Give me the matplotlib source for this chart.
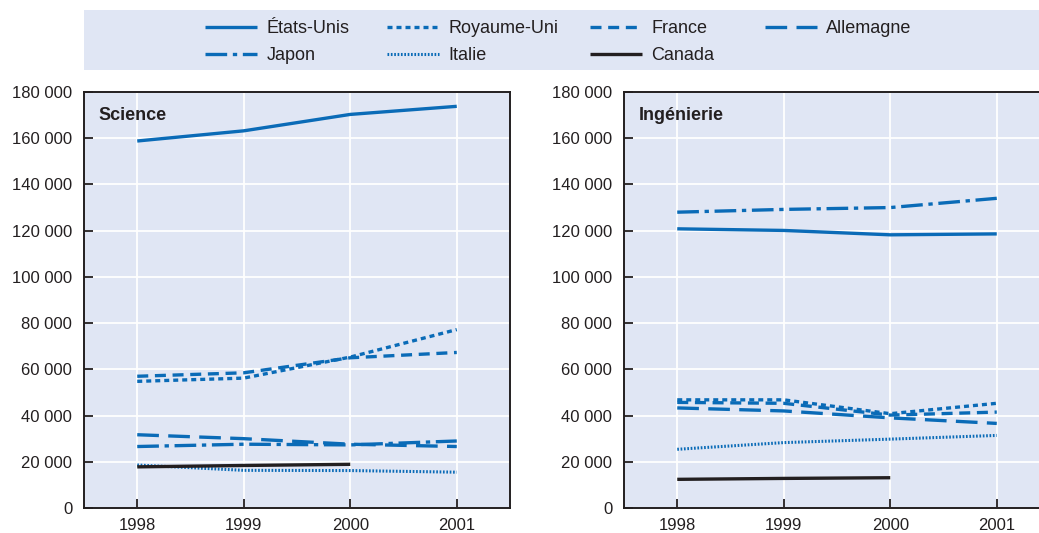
import matplotlib
matplotlib.use("Agg")
import matplotlib.pyplot as plt
from matplotlib.lines import Line2D
from matplotlib.patches import Rectangle
from matplotlib.ticker import FuncFormatter

plt.rcParams['font.family'] = ['Liberation Sans', 'DejaVu Sans']

years = [1998, 1999, 2000, 2001]
canada_years = [1998, 1999, 2000]

# Science
sci_us = [158800, 163200, 170300, 173800]
sci_uk = [54800, 56200, 65300, 77200]
sci_fr = [57000, 58500, 65000, 67300]
sci_de = [31700, 30000, 27600, 26600]
sci_jp = [26600, 27600, 27300, 29000]
sci_it = [18600, 16300, 16200, 15500]
sci_ca = [17800, 18400, 18900]

# Ingénierie
eng_us = [120800, 120100, 118200, 118600]
eng_uk = [46800, 46800, 40800, 45300]
eng_fr = [45700, 45300, 40200, 41500]
eng_de = [43300, 42000, 39000, 36600]
eng_jp = [128000, 129200, 130000, 134000]
eng_it = [25400, 28300, 29800, 31400]
eng_ca = [12400, 12800, 13100]

panel_titles = ['Science', 'Ingénierie']
yticks = [0, 20000, 40000, 60000, 80000, 100000, 120000, 140000, 160000, 180000]

BLUE = '#0a6bb7'
DARK = '#231f20'
BG = '#e0e6f4'

styles = {
    'États-Unis': dict(color=BLUE, lw=2.4, ls='-'),
    'Royaume-Uni': dict(color=BLUE, lw=2.4, ls=(0, (1.5, 1.2))),
    'France': dict(color=BLUE, lw=2.4, ls=(0, (3.3, 2.0))),
    'Allemagne': dict(color=BLUE, lw=2.4, ls=(0, (6.5, 2.8))),
    'Japon': dict(color=BLUE, lw=2.4, ls=(0, (6.5, 1.7, 1.3, 1.7))),
    'Italie': dict(color=BLUE, lw=2.2, ls=(0, (0.55, 0.55))),
    'Canada': dict(color=DARK, lw=2.4, ls='-'),
}

W, H = 1039, 533
fig = plt.figure(figsize=(W / 100, H / 100), dpi=100)

# legend background
fig.patches.append(Rectangle((84 / W, 1 - 70 / H), (W - 84) / W, 60 / H,
                             transform=fig.transFigure, facecolor=BG, edgecolor='none', zorder=0))

ax_w = 426 / W
ax_h = 416 / H
ax_b = 1 - 508 / H
axes = [fig.add_axes([84 / W, ax_b, ax_w, ax_h]),
        fig.add_axes([624 / W, ax_b, ax_w, ax_h])]

names6 = ['États-Unis', 'Royaume-Uni', 'France', 'Allemagne', 'Japon', 'Italie']
data = [
    dict(zip(names6, [sci_us, sci_uk, sci_fr, sci_de, sci_jp, sci_it])),
    dict(zip(names6, [eng_us, eng_uk, eng_fr, eng_de, eng_jp, eng_it])),
]
canada = [sci_ca, eng_ca]

fmt = FuncFormatter(lambda v, p: f"{int(v):,}".replace(',', ' '))

for ax, d, ca, title in zip(axes, data, canada, panel_titles):
    ax.set_facecolor(BG)
    for name, vals in d.items():
        ax.plot(years, vals, **styles[name], solid_capstyle='butt', dash_capstyle='butt', zorder=3)
    ax.plot(canada_years, ca, **styles['Canada'], solid_capstyle='butt', zorder=3)
    ax.set_xlim(1997.5, 2001.5)
    ax.set_ylim(0, 180000)
    ax.set_xticks(years)
    ax.set_yticks(yticks)
    ax.yaxis.set_major_formatter(fmt)
    ax.grid(True, color='white', lw=1.3, zorder=1)
    ax.set_axisbelow(True)
    ax.tick_params(direction='in', length=6.5, width=1.3, color=DARK, labelsize=12,
                   labelcolor=DARK)
    ax.tick_params(axis='y', pad=8.5)
    ax.tick_params(axis='x', pad=7)
    for s in ax.spines.values():
        s.set_color(DARK)
        s.set_linewidth(1.4)
    ax.text(0.035, 0.944, title, transform=ax.transAxes, fontsize=13, fontweight='bold',
            color=DARK, va='center', ha='left')

# legend in four columns
cols = [(['États-Unis', 'Japon'], 205),
        (['Royaume-Uni', 'Italie'], 387),
        (['France', 'Canada'], 590),
        (['Allemagne'], 765)]
for names, x in cols:
    handles = [Line2D([], [], solid_capstyle='butt', dash_capstyle='butt', **styles[n]) for n in names]
    leg = fig.legend(handles, names, loc='upper left', bbox_to_anchor=(x / W, 1 - 20 / H),
                     frameon=False, fontsize=13, handlelength=2.9, handletextpad=0.5,
                     labelspacing=0.55, borderpad=0, borderaxespad=0)
    for t in leg.get_texts():
        t.set_color(DARK)

fig.savefig('out.png', dpi=100)
